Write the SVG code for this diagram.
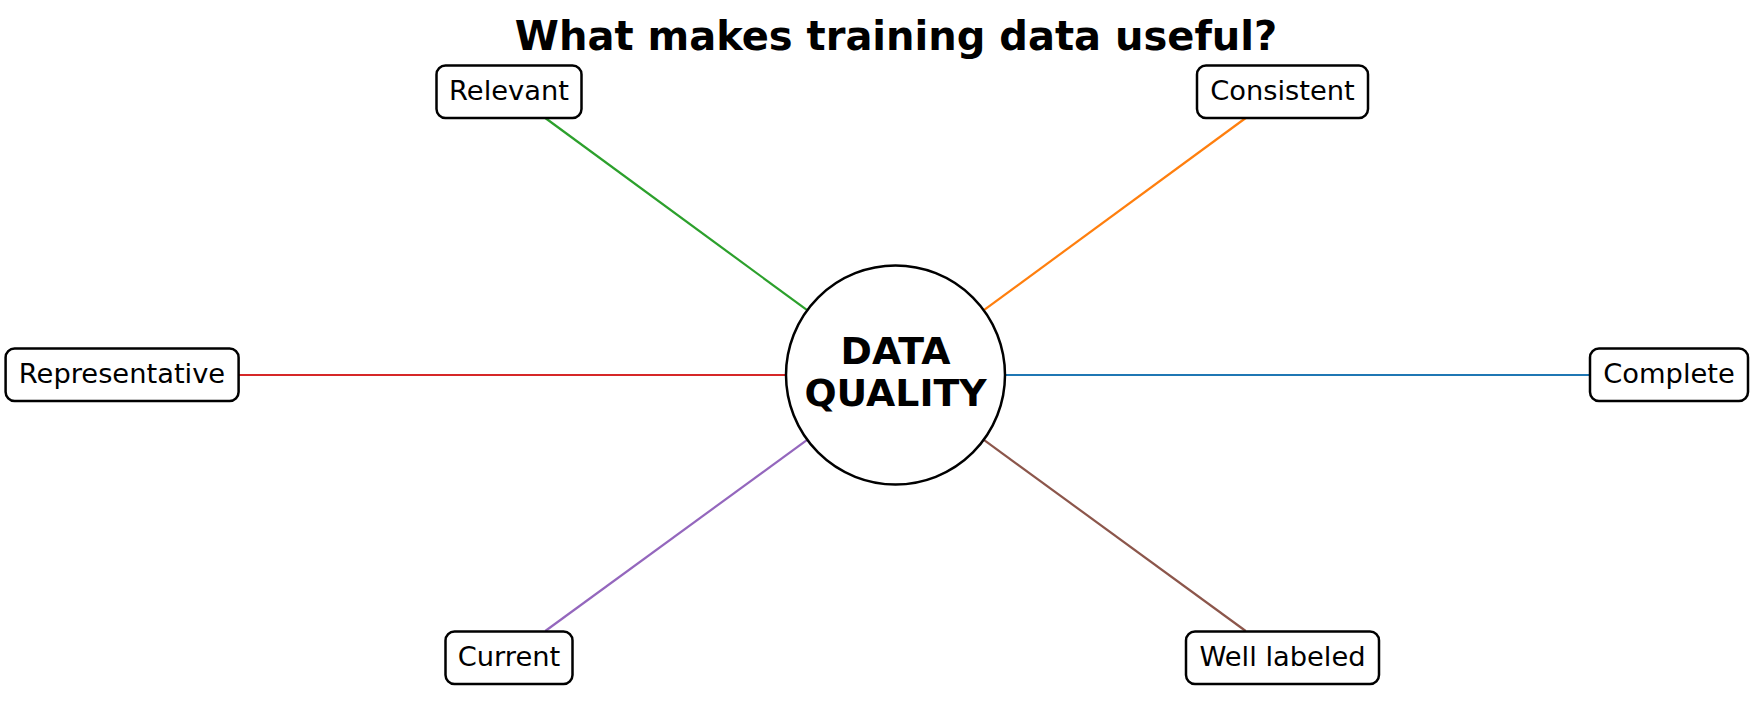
<svg xmlns="http://www.w3.org/2000/svg" width="1764" height="704" viewBox="0 0 1764 704">
<style>
.bg{fill:#ffffff}
.box{fill:#ffffff;stroke:#000000;stroke-width:2.5}
.lbl{font-family:"DejaVu Sans",sans-serif;font-size:27.3px;fill:#000000;text-anchor:middle}
.title{font-family:"DejaVu Sans",sans-serif;font-size:40px;font-weight:bold;fill:#000000;text-anchor:middle}
.hub{font-family:"DejaVu Sans",sans-serif;font-size:37.8px;font-weight:bold;fill:#000000;text-anchor:middle}
.edge{stroke-width:2.2;fill:none}
</style>
<rect class="bg" x="0" y="0" width="1764" height="704"/>
<text class="title" x="896" y="50">What makes training data useful?</text>
<g id="connectors">
<line class="edge" stroke="#2ca02c" x1="806.8" y1="309.9" x2="545.3" y2="118"/>
<line class="edge" stroke="#ff7f0e" x1="984.2" y1="309.9" x2="1245.7" y2="118"/>
<line class="edge" stroke="#d62728" x1="785.5" y1="375" x2="238.5" y2="375"/>
<line class="edge" stroke="#1f77b4" x1="1005.5" y1="375" x2="1590" y2="375"/>
<line class="edge" stroke="#9467bd" x1="806.8" y1="440.1" x2="545.3" y2="631"/>
<line class="edge" stroke="#8c564b" x1="984.2" y1="440.1" x2="1245.7" y2="631"/>
</g>
<g id="hub">
<circle cx="895.5" cy="375" r="109.5" fill="#ffffff" stroke="#000000" stroke-width="2.5"/>
<text class="hub" x="895.5" y="364">DATA</text>
<text class="hub" x="895.5" y="406">QUALITY</text>
</g>
<g id="relevant">
<rect class="box" x="436.5" y="65.5" width="145" height="52.5" rx="9"/>
<text class="lbl" x="509" y="100">Relevant</text>
</g>
<g id="consistent">
<rect class="box" x="1197" y="65.5" width="171" height="52.5" rx="9"/>
<text class="lbl" x="1282.5" y="100">Consistent</text>
</g>
<g id="representative">
<rect class="box" x="5.6" y="348.5" width="233" height="52.5" rx="9"/>
<text class="lbl" x="122" y="383">Representative</text>
</g>
<g id="complete">
<rect class="box" x="1590" y="348.5" width="158" height="52.5" rx="9"/>
<text class="lbl" x="1669" y="383">Complete</text>
</g>
<g id="current">
<rect class="box" x="445.5" y="631.5" width="127" height="52.5" rx="9"/>
<text class="lbl" x="509" y="666">Current</text>
</g>
<g id="well-labeled">
<rect class="box" x="1186" y="631.5" width="193" height="52.5" rx="9"/>
<text class="lbl" x="1282.5" y="666">Well labeled</text>
</g>
</svg>
